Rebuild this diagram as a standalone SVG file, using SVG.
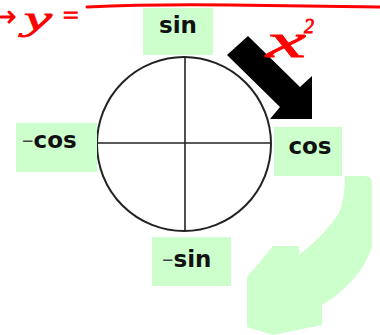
<svg xmlns="http://www.w3.org/2000/svg" width="380" height="335" viewBox="0 0 380 335">
<style>
.box{fill:#ccffcc}
.lbl{font-family:"DejaVu Sans",Verdana,sans-serif;font-weight:bold;font-size:23px;fill:#111}
.dash{font-weight:normal;fill:#444}
.ink{fill:none;stroke:#ff0000;stroke-width:3;stroke-linecap:round;stroke-linejoin:round}
.hand{font-family:"Liberation Serif",serif;font-style:italic;fill:#ff0000;stroke:#ff0000;stroke-width:0.8}
.axis{stroke:#222;stroke-width:1.6}
</style>
<rect width="380" height="335" fill="#fff"/>
<g id="green-arrow">
<path class="box" d="M345,176 L365,176 Q372,176 372,183 L372,247 Q360,282 322,305 L322,325 L273,335 L247,327 L247,277 L260,262 L273,246 L299,246 L299,255 Q328,232 340,211 Q345,196 345,176 Z"/>
</g>
<g id="black-arrow">
<polygon points="227,55 248,36 300,87 312,76 312,119 270,119 280,107" fill="#000"/>
</g>
<g id="circle">
<circle cx="184" cy="144" r="87" fill="#fff" stroke="#222" stroke-width="2"/>
<line class="axis" x1="97" y1="143" x2="271" y2="143"/>
<line class="axis" x1="185" y1="57" x2="185" y2="231"/>
</g>
<g id="label-sin">
<rect class="box" x="143" y="8" width="70" height="47"/>
<text class="lbl" x="178" y="33" text-anchor="middle">sin</text>
</g>
<g id="label-neg-cos">
<rect class="box" x="16" y="123" width="81" height="49"/>
<text class="lbl" x="22" y="148"><tspan class="dash">–</tspan>cos</text>
</g>
<g id="label-cos">
<rect class="box" x="274" y="127" width="68" height="49"/>
<text class="lbl" x="310" y="154" text-anchor="middle">cos</text>
</g>
<g id="label-neg-sin">
<rect class="box" x="152" y="237" width="79" height="49"/>
<text class="lbl" x="162" y="267"><tspan class="dash">–</tspan>sin</text>
</g>
<g id="handwriting">
<path class="ink" d="M1,17 L14,17 M9,12 L14,17 L9,22"/>
<text class="hand" x="24" y="30" font-size="33" textLength="28" lengthAdjust="spacingAndGlyphs">y</text>
<text class="hand" x="61" y="24" font-size="26" textLength="19" lengthAdjust="spacingAndGlyphs">=</text>
<path class="ink" d="M87,7 Q150,4 230,5 T380,7"/>
<text class="hand" x="266" y="57" font-size="48" textLength="40" lengthAdjust="spacingAndGlyphs">x</text>
<text class="hand" x="304" y="33" font-size="20">2</text>
</g>
</svg>
